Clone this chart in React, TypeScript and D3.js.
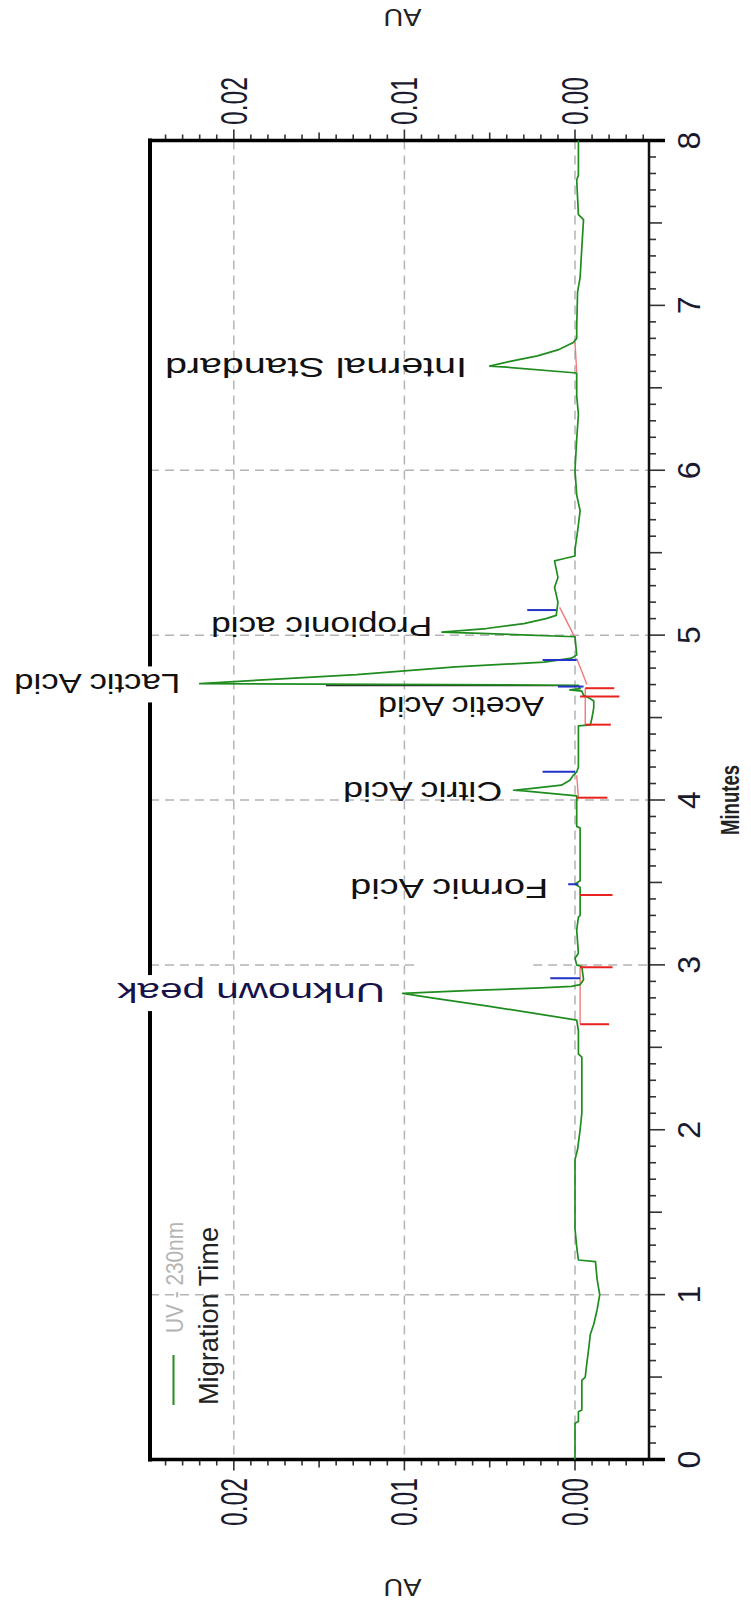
import React from 'react';
import * as d3 from 'd3';

// ---------- data ----------
const minuteTicks = [0, 1, 2, 3, 4, 5, 6, 7, 8];
const auTickValues = [0, 0.01, 0.02];
const auTickLabels = ['0.00', '0.01', '0.02'];
const gridMinutes = [1, 4, 5, 6];
const gridAU = [0, 0.01, 0.02];
// the 3-minute grid line is broken in the reference
const brokenGrid = { t: 3, gapFrom: 0.0092, gapTo: 0.00245 };

// [minutes, AU]
const trace: [number, number][] = [
  [0.0, 0.0], [0.1, 0.0], [0.22, 0.0], [0.23, -0.0002], [0.29, -0.0002], [0.3, -0.0004],
  [0.48, -0.0004], [0.5, -0.0006], [0.59, -0.0007], [0.67, -0.0008], [0.76, -0.0009],
  [0.82, -0.0011], [0.91, -0.0013], [1.0, -0.00145], [1.09, -0.0013], [1.2, -0.0012],
  [1.21, -0.0002], [1.29, -0.0001], [1.4, 0.0], [1.82, 0.0], [1.88, -0.00015], [2.0, -0.0003],
  [2.1, -0.0004], [2.44, -0.0004], [2.46, -0.0002], [2.6, -0.0002], [2.665, -0.0001],
  [2.7, 0.002], [2.75, 0.0051], [2.8, 0.0084], [2.827, 0.0101], [2.845, 0.006], [2.86, 0.002],
  [2.87, 0.0002], [2.88, -0.0003], [2.91, -0.0005], [2.99, -0.0004], [3.0, -0.0001],
  [3.04, 0.0], [3.07, -0.0002], [3.21, -0.0001], [3.29, -0.0002], [3.3, -0.0003],
  [3.47, -0.0003], [3.49, 0.0], [3.51, -0.0003], [3.83, -0.0003], [3.84, -0.0001],
  [4.025, -0.0001], [4.055, 0.003], [4.059, 0.0036], [4.07, 0.0025], [4.09, 0.0008],
  [4.12, 0.0003], [4.15, 0.0001], [4.17, -0.0001], [4.2, -0.0002], [4.45, -0.0002],
  [4.456, -0.0009], [4.5, -0.001], [4.56, -0.0011], [4.6, -0.0011], [4.62, -0.0008],
  [4.635, -0.0005], [4.66, -0.0004], [4.668, 0.0003], [4.676, -0.0003], [4.696, -0.0002],
  [4.706, 0.022], [4.73, 0.018], [4.76, 0.0128], [4.808, 0.007], [4.836, 0.0018],
  [4.86, 0.0002], [4.88, -0.0001], [4.99, 0.0], [5.012, 0.006], [5.018, 0.0078],
  [5.04, 0.0052], [5.07, 0.003], [5.1, 0.0017], [5.12, 0.0011], [5.2, 0.001], [5.29, 0.0012],
  [5.35, 0.001], [5.45, 0.0012], [5.46, 0.0008], [5.48, 0.0], [5.52, 0.0], [5.63, -0.00015],
  [5.755, -0.0003], [5.85, -0.0001], [6.0, 0.0], [6.19, -0.0001], [6.34, -0.0002],
  [6.45, -0.0001], [6.59, -0.0001], [6.625, 0.004], [6.632, 0.005], [6.66, 0.0038],
  [6.694, 0.0022], [6.73, 0.001], [6.775, 0.0001], [6.8, -0.0001], [6.87, -0.0001],
  [7.08, -0.00015], [7.17, -0.0003], [7.35, -0.0004], [7.52, -0.0005], [7.55, -0.0002],
  [7.76, -0.0001], [7.79, -0.0002], [8.0, -0.0002],
];

// peak labels
const peakNames = ['Unknown peak', 'Formic Acid', 'Citric Acid', 'Acetic Acid', 'Lactic Acid', 'Propionic acid', 'Internal Standard'];
const labelTime = [2.829, 3.459, 4.047, 4.562, 4.701, 5.047, 6.622];
const labelAU = [0.01113, 0.00157, 0.00427, 0.00181, 0.02314, 0.00837, 0.00633];
const labelColors = ['#16124a', '#111', '#111', '#111', '#111', '#111', '#111'];

// peak start/end marks (red): [minutes, AU from, AU to]
const startEndMarks: [number, number, number][] = [
  [2.64, -0.0003, -0.002], [2.985, -0.0003, -0.0022], [3.424, -0.0003, -0.0022],
  [4.014, -0.0001, -0.0019], [4.457, -0.0006, -0.0021], [4.627, -0.0003, -0.0026],
  [4.678, -0.0006, -0.0023],
];
// apex marks (blue)
const apexMarks: [number, number, number][] = [
  [2.919, 0.00145, -0.0003], [3.489, 0.0004, -0.0002], [4.172, 0.0019, 0.0],
  [4.688, 0.001, -0.0005], [4.849, 0.0019, -0.0001], [5.152, 0.0028, 0.0011],
];
// integration baselines: [t1, au1, t2, au2]
const baselines: [number, number, number, number][] = [
  [2.64, -0.0003, 2.985, -0.0003], [4.014, -0.0002, 4.15, -0.0001],
  [4.457, -0.0006, 4.678, -0.0006], [4.7, -0.0007, 4.858, -0.0001],
  [4.985, 0.0, 5.168, 0.0009], [6.594, -0.0001, 6.775, 0.0],
];
const dropLine: [number, number, number] = [4.7, 0.0146, -0.0001];

const legendItems = ['UV - 230nm', 'Migration Time'];

// ---------- layout ----------
const W = 751, H = 1606;
const plotLeft = 150, plotRight = 649;
const FONT = 'Liberation Sans, Arial, Helvetica, sans-serif';
const labelLen = [268, 198, 159, 166, 166, 221, 302];

export default function App() {
  const tScale = d3.scaleLinear().domain([0, 8]).range([1459.5, 140.5]);
  const auScale = d3.scaleLinear().domain([0, 0.01]).range([575, 404.4]);
  const top = tScale(8), bottom = tScale(0);

  const line = d3.line<[number, number]>()
    .x((d) => auScale(d[1]))
    .y((d) => tScale(d[0]));

  const auMinor = d3.range(-4, 25).map((i) => i / 1000);
  const minMinor = d3.range(0, 81).map((i) => i / 10);
  const tickCol = '#333';
  const gridStyle = { stroke: '#b4b4b4', strokeWidth: 1.5, strokeDasharray: '9 6' };
  const axisLabelCol = '#1a1a2e';

  return (
    <svg width={W} height={H} style={{ position: 'absolute', left: 0, top: 0, background: '#fff' }}
      fontFamily={FONT}>
      <rect x={0} y={0} width={W} height={H} fill="#fff" />

      {/* grid */}
      {gridAU.map((v) => (
        <line key={'ga' + v} x1={auScale(v)} x2={auScale(v)} y1={top} y2={bottom} {...gridStyle} />
      ))}
      {gridMinutes.map((t) => (
        <line key={'gm' + t} x1={plotLeft} x2={plotRight} y1={tScale(t)} y2={tScale(t)} {...gridStyle} />
      ))}
      <line x1={plotLeft} x2={auScale(brokenGrid.gapFrom)} y1={tScale(brokenGrid.t)} y2={tScale(brokenGrid.t)} {...gridStyle} />
      <line x1={auScale(brokenGrid.gapTo)} x2={plotRight} y1={tScale(brokenGrid.t)} y2={tScale(brokenGrid.t)} {...gridStyle} />

      {/* AU ticks top & bottom */}
      {auMinor.map((v, i) => {
        const k = Math.round(v * 1000);
        const len = k % 10 === 0 ? 11 : k % 5 === 0 ? 8 : 6;
        const x = auScale(v);
        return (
          <g key={'at' + i} stroke={tickCol} strokeWidth={1.6}>
            <line x1={x} x2={x} y1={top} y2={top - len} />
            <line x1={x} x2={x} y1={bottom} y2={bottom + len} />
          </g>
        );
      })}
      {/* minute ticks */}
      {minMinor.map((t, i) => {
        const k = Math.round(t * 10);
        const len = k % 10 === 0 ? 16 : k % 5 === 0 ? 13 : 7;
        const y = tScale(t);
        return <line key={'mt' + i} x1={plotRight} x2={plotRight + len} y1={y} y2={y} stroke={tickCol} strokeWidth={1.6} />;
      })}

      {/* frame */}
      <line x1={plotLeft} x2={plotLeft} y1={top - 2} y2={bottom + 2} stroke="#000" strokeWidth={4} />
      <line x1={plotLeft - 2} x2={plotRight + 16} y1={top} y2={top} stroke="#000" strokeWidth={3.5} />
      <line x1={plotLeft - 2} x2={plotRight + 16} y1={bottom} y2={bottom} stroke="#000" strokeWidth={3.5} />
      <line x1={plotRight} x2={plotRight} y1={top} y2={bottom} stroke="#111" strokeWidth={2.5} />

      {/* integration baselines */}
      {baselines.map((b, i) => (
        <line key={'bl' + i} x1={auScale(b[1])} y1={tScale(b[0])} x2={auScale(b[3])} y2={tScale(b[2])}
          stroke="#f07a7a" strokeWidth={1.4} />
      ))}

      {/* drop line */}
      <line x1={auScale(dropLine[1])} x2={auScale(dropLine[2])} y1={tScale(dropLine[0]) + 1} y2={tScale(dropLine[0]) + 1}
        stroke="#2a2a2a" strokeWidth={1.3} />

      {/* trace */}
      <path d={line(trace) || ''} fill="none" stroke="#1f8c1f" strokeWidth={1.7} strokeLinejoin="round" />

      {/* marks */}
      {startEndMarks.map((m, i) => (
        <line key={'sm' + i} x1={auScale(m[1])} x2={auScale(m[2])} y1={tScale(m[0])} y2={tScale(m[0])}
          stroke="#e8231e" strokeWidth={2} />
      ))}
      {apexMarks.map((m, i) => (
        <line key={'am' + i} x1={auScale(m[1])} x2={auScale(m[2])} y1={tScale(m[0])} y2={tScale(m[0])}
          stroke="#2233c8" strokeWidth={2} />
      ))}

      {/* peak labels (upside down) */}
      {peakNames.map((name, i) => {
        const x = auScale(labelAU[i]);
        const y = tScale(labelTime[i]);
        const crosses = x - labelLen[i] < plotLeft;
        return (
          <g key={'pl' + i}>
            {crosses && <rect x={plotLeft - 4} y={y - 18} width={8} height={36} fill="#fff" />}
            <text transform={`translate(${x},${y}) rotate(180)`} dy="0.36em" fontSize={28}
              fill={labelColors[i]} textLength={labelLen[i]} lengthAdjust="spacingAndGlyphs">
              {name}
            </text>
          </g>
        );
      })}

      {/* minute labels */}
      {minuteTicks.map((t) => (
        <text key={'ml' + t} transform={`translate(688,${tScale(t)}) rotate(-90)`} dy="0.36em"
          textAnchor="middle" fontSize={32} fill={axisLabelCol}>{t}</text>
      ))}
      <text transform={`translate(730,800) rotate(-90)`} dy="0.36em" textAnchor="middle" fontSize={26}
        fontWeight="bold" fill="#222" textLength={70} lengthAdjust="spacingAndGlyphs">Minutes</text>

      {/* AU labels top and bottom */}
      {auTickValues.map((v, i) => (
        <g key={'al' + i}>
          <text transform={`translate(${auScale(v)},125) rotate(-90)`} dy="0.36em" fontSize={36}
            fill={axisLabelCol} textLength={48} lengthAdjust="spacingAndGlyphs">{auTickLabels[i]}</text>
          <text transform={`translate(${auScale(v)},1526) rotate(-90)`} dy="0.36em" fontSize={36}
            fill={axisLabelCol} textLength={48} lengthAdjust="spacingAndGlyphs">{auTickLabels[i]}</text>
        </g>
      ))}
      <text transform={`translate(${(plotLeft + plotRight) / 2 + 3},17.5) rotate(180)`} dy="0.36em" textAnchor="middle"
        fontSize={24} fill="#222" textLength={38} lengthAdjust="spacingAndGlyphs">AU</text>
      <text transform={`translate(${(plotLeft + plotRight) / 2 + 3},1587.5) rotate(180)`} dy="0.36em" textAnchor="middle"
        fontSize={24} fill="#222" textLength={38} lengthAdjust="spacingAndGlyphs">AU</text>

      {/* legend */}
      <line x1={173.5} x2={173.5} y1={1355} y2={1405} stroke="#1f8c1f" strokeWidth={2} />
      <text transform="translate(174,1333) rotate(-90)" dy="0.36em" fontSize={24} fill="#b4b4b4"
        textLength={111} lengthAdjust="spacingAndGlyphs">{legendItems[0]}</text>
      <text transform="translate(208,1405) rotate(-90)" dy="0.36em" fontSize={28} fill="#222"
        textLength={178} lengthAdjust="spacingAndGlyphs">{legendItems[1]}</text>
    </svg>
  );
}
